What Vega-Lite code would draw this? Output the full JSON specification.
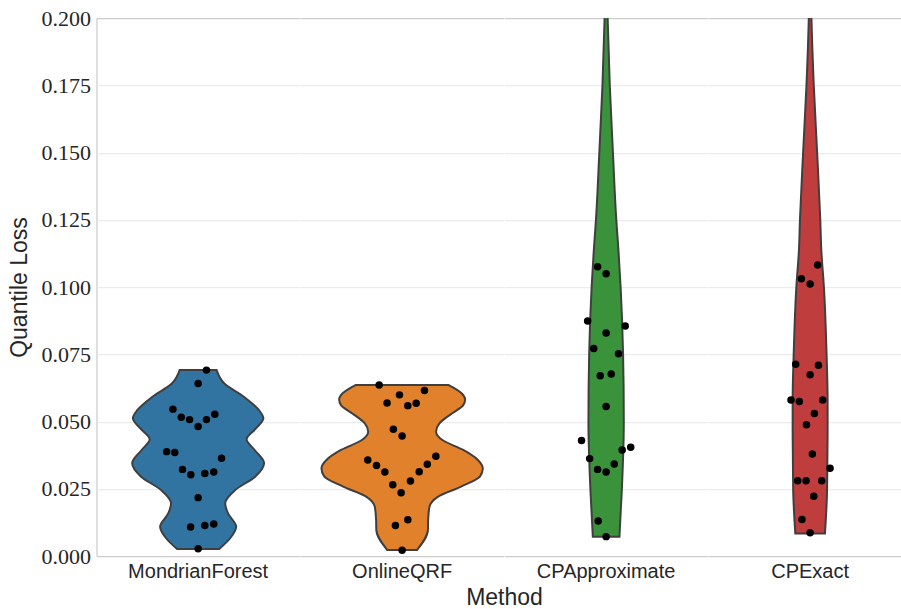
{
  "$schema": "https://vega.github.io/schema/vega-lite/v6.json",
  "padding": {"left": 7.5, "top": 7, "right": 0, "bottom": 0},
  "background": "white",
  "config": {"view": {"stroke": null}, "font": "Liberation Sans"},
  "data": {
    "values": [
      {"kind": "violin", "Method": "MondrianForest", "Loss": 0.0691, "lo": -0.091, "hi": 0.091},
      {"kind": "violin", "Method": "MondrianForest", "Loss": 0.0642, "lo": -0.128, "hi": 0.128},
      {"kind": "violin", "Method": "MondrianForest", "Loss": 0.0592, "lo": -0.225, "hi": 0.225},
      {"kind": "violin", "Method": "MondrianForest", "Loss": 0.0543, "lo": -0.2985, "hi": 0.2985},
      {"kind": "violin", "Method": "MondrianForest", "Loss": 0.0512, "lo": -0.321, "hi": 0.321},
      {"kind": "violin", "Method": "MondrianForest", "Loss": 0.0475, "lo": -0.2855, "hi": 0.2855},
      {"kind": "violin", "Method": "MondrianForest", "Loss": 0.0434, "lo": -0.2385, "hi": 0.2385},
      {"kind": "violin", "Method": "MondrianForest", "Loss": 0.0394, "lo": -0.278, "hi": 0.278},
      {"kind": "violin", "Method": "MondrianForest", "Loss": 0.0345, "lo": -0.3245, "hi": 0.3245},
      {"kind": "violin", "Method": "MondrianForest", "Loss": 0.0295, "lo": -0.2805, "hi": 0.2805},
      {"kind": "violin", "Method": "MondrianForest", "Loss": 0.0245, "lo": -0.182, "hi": 0.182},
      {"kind": "violin", "Method": "MondrianForest", "Loss": 0.0196, "lo": -0.133, "hi": 0.133},
      {"kind": "violin", "Method": "MondrianForest", "Loss": 0.0159, "lo": -0.1465, "hi": 0.1465},
      {"kind": "violin", "Method": "MondrianForest", "Loss": 0.0109, "lo": -0.187, "hi": 0.187},
      {"kind": "violin", "Method": "MondrianForest", "Loss": 0.0066, "lo": -0.1575, "hi": 0.1575},
      {"kind": "violin", "Method": "MondrianForest", "Loss": 0.0026, "lo": -0.1035, "hi": 0.1035},

      {"kind": "violin", "Method": "OnlineQRF", "Loss": 0.0636, "lo": -0.227, "hi": 0.227},
      {"kind": "violin", "Method": "OnlineQRF", "Loss": 0.0605, "lo": -0.2925, "hi": 0.2925},
      {"kind": "violin", "Method": "OnlineQRF", "Loss": 0.0582, "lo": -0.31, "hi": 0.31},
      {"kind": "violin", "Method": "OnlineQRF", "Loss": 0.0560, "lo": -0.30, "hi": 0.30},
      {"kind": "violin", "Method": "OnlineQRF", "Loss": 0.0530, "lo": -0.245, "hi": 0.245},
      {"kind": "violin", "Method": "OnlineQRF", "Loss": 0.0493, "lo": -0.1835, "hi": 0.1835},
      {"kind": "violin", "Method": "OnlineQRF", "Loss": 0.0462, "lo": -0.167, "hi": 0.167},
      {"kind": "violin", "Method": "OnlineQRF", "Loss": 0.0431, "lo": -0.198, "hi": 0.198},
      {"kind": "violin", "Method": "OnlineQRF", "Loss": 0.0395, "lo": -0.2985, "hi": 0.2985},
      {"kind": "violin", "Method": "OnlineQRF", "Loss": 0.0357, "lo": -0.3725, "hi": 0.3725},
      {"kind": "violin", "Method": "OnlineQRF", "Loss": 0.0326, "lo": -0.397, "hi": 0.397},
      {"kind": "violin", "Method": "OnlineQRF", "Loss": 0.0296, "lo": -0.3835, "hi": 0.3835},
      {"kind": "violin", "Method": "OnlineQRF", "Loss": 0.0258, "lo": -0.29, "hi": 0.29},
      {"kind": "violin", "Method": "OnlineQRF", "Loss": 0.0220, "lo": -0.1755, "hi": 0.1755},
      {"kind": "violin", "Method": "OnlineQRF", "Loss": 0.0183, "lo": -0.1345, "hi": 0.1345},
      {"kind": "violin", "Method": "OnlineQRF", "Loss": 0.0134, "lo": -0.128, "hi": 0.128},
      {"kind": "violin", "Method": "OnlineQRF", "Loss": 0.0097, "lo": -0.127, "hi": 0.127},
      {"kind": "violin", "Method": "OnlineQRF", "Loss": 0.0022, "lo": -0.073, "hi": 0.073},

      {"kind": "violin", "Method": "CPApproximate", "Loss": 0.205, "lo": -0.006, "hi": 0.006},
      {"kind": "violin", "Method": "CPApproximate", "Loss": 0.2, "lo": -0.0075, "hi": 0.0075},
      {"kind": "violin", "Method": "CPApproximate", "Loss": 0.175, "lo": -0.018, "hi": 0.018},
      {"kind": "violin", "Method": "CPApproximate", "Loss": 0.15, "lo": -0.0335, "hi": 0.0335},
      {"kind": "violin", "Method": "CPApproximate", "Loss": 0.125, "lo": -0.05, "hi": 0.05},
      {"kind": "violin", "Method": "CPApproximate", "Loss": 0.1138, "lo": -0.0605, "hi": 0.0605},
      {"kind": "violin", "Method": "CPApproximate", "Loss": 0.0997, "lo": -0.0715, "hi": 0.0715},
      {"kind": "violin", "Method": "CPApproximate", "Loss": 0.0747, "lo": -0.0835, "hi": 0.0835},
      {"kind": "violin", "Method": "CPApproximate", "Loss": 0.0499, "lo": -0.087, "hi": 0.087},
      {"kind": "violin", "Method": "CPApproximate", "Loss": 0.0249, "lo": -0.0775, "hi": 0.0775},
      {"kind": "violin", "Method": "CPApproximate", "Loss": 0.0072, "lo": -0.0655, "hi": 0.0655},

      {"kind": "violin", "Method": "CPExact", "Loss": 0.205, "lo": -0.005, "hi": 0.005},
      {"kind": "violin", "Method": "CPExact", "Loss": 0.2, "lo": -0.0065, "hi": 0.0065},
      {"kind": "violin", "Method": "CPExact", "Loss": 0.175, "lo": -0.018, "hi": 0.018},
      {"kind": "violin", "Method": "CPExact", "Loss": 0.15, "lo": -0.0345, "hi": 0.0345},
      {"kind": "violin", "Method": "CPExact", "Loss": 0.125, "lo": -0.05, "hi": 0.05},
      {"kind": "violin", "Method": "CPExact", "Loss": 0.1138, "lo": -0.055, "hi": 0.055},
      {"kind": "violin", "Method": "CPExact", "Loss": 0.0997, "lo": -0.068, "hi": 0.068},
      {"kind": "violin", "Method": "CPExact", "Loss": 0.0747, "lo": -0.081, "hi": 0.081},
      {"kind": "violin", "Method": "CPExact", "Loss": 0.058, "lo": -0.086, "hi": 0.086},
      {"kind": "violin", "Method": "CPExact", "Loss": 0.05, "lo": -0.086, "hi": 0.086},
      {"kind": "violin", "Method": "CPExact", "Loss": 0.025, "lo": -0.0835, "hi": 0.0835},
      {"kind": "violin", "Method": "CPExact", "Loss": 0.0084, "lo": -0.073, "hi": 0.073},

      {"kind": "point", "Method": "MondrianForest", "Loss": 0.0691, "jitter": 0.041},
      {"kind": "point", "Method": "MondrianForest", "Loss": 0.0641, "jitter": 0.0},
      {"kind": "point", "Method": "MondrianForest", "Loss": 0.0546, "jitter": -0.124},
      {"kind": "point", "Method": "MondrianForest", "Loss": 0.0516, "jitter": -0.083},
      {"kind": "point", "Method": "MondrianForest", "Loss": 0.0507, "jitter": -0.042},
      {"kind": "point", "Method": "MondrianForest", "Loss": 0.0481, "jitter": 0.0},
      {"kind": "point", "Method": "MondrianForest", "Loss": 0.0507, "jitter": 0.041},
      {"kind": "point", "Method": "MondrianForest", "Loss": 0.0527, "jitter": 0.082},
      {"kind": "point", "Method": "MondrianForest", "Loss": 0.0388, "jitter": -0.155},
      {"kind": "point", "Method": "MondrianForest", "Loss": 0.0385, "jitter": -0.115},
      {"kind": "point", "Method": "MondrianForest", "Loss": 0.0363, "jitter": 0.115},
      {"kind": "point", "Method": "MondrianForest", "Loss": 0.0322, "jitter": -0.077},
      {"kind": "point", "Method": "MondrianForest", "Loss": 0.0302, "jitter": -0.036},
      {"kind": "point", "Method": "MondrianForest", "Loss": 0.0307, "jitter": 0.033},
      {"kind": "point", "Method": "MondrianForest", "Loss": 0.0312, "jitter": 0.077},
      {"kind": "point", "Method": "MondrianForest", "Loss": 0.0217, "jitter": 0.0},
      {"kind": "point", "Method": "MondrianForest", "Loss": 0.0108, "jitter": -0.037},
      {"kind": "point", "Method": "MondrianForest", "Loss": 0.0113, "jitter": 0.033},
      {"kind": "point", "Method": "MondrianForest", "Loss": 0.0119, "jitter": 0.077},
      {"kind": "point", "Method": "MondrianForest", "Loss": 0.0027, "jitter": 0.0},

      {"kind": "point", "Method": "OnlineQRF", "Loss": 0.0636, "jitter": -0.113},
      {"kind": "point", "Method": "OnlineQRF", "Loss": 0.0599, "jitter": -0.013},
      {"kind": "point", "Method": "OnlineQRF", "Loss": 0.0615, "jitter": 0.110},
      {"kind": "point", "Method": "OnlineQRF", "Loss": 0.0569, "jitter": -0.074},
      {"kind": "point", "Method": "OnlineQRF", "Loss": 0.0559, "jitter": 0.028},
      {"kind": "point", "Method": "OnlineQRF", "Loss": 0.0568, "jitter": 0.069},
      {"kind": "point", "Method": "OnlineQRF", "Loss": 0.0471, "jitter": -0.043},
      {"kind": "point", "Method": "OnlineQRF", "Loss": 0.0446, "jitter": 0.0},
      {"kind": "point", "Method": "OnlineQRF", "Loss": 0.0357, "jitter": -0.169},
      {"kind": "point", "Method": "OnlineQRF", "Loss": 0.0336, "jitter": -0.126},
      {"kind": "point", "Method": "OnlineQRF", "Loss": 0.0312, "jitter": -0.085},
      {"kind": "point", "Method": "OnlineQRF", "Loss": 0.0265, "jitter": -0.046},
      {"kind": "point", "Method": "OnlineQRF", "Loss": 0.0235, "jitter": -0.005},
      {"kind": "point", "Method": "OnlineQRF", "Loss": 0.0279, "jitter": 0.041},
      {"kind": "point", "Method": "OnlineQRF", "Loss": 0.0313, "jitter": 0.084},
      {"kind": "point", "Method": "OnlineQRF", "Loss": 0.0341, "jitter": 0.124},
      {"kind": "point", "Method": "OnlineQRF", "Loss": 0.0371, "jitter": 0.166},
      {"kind": "point", "Method": "OnlineQRF", "Loss": 0.0113, "jitter": -0.033},
      {"kind": "point", "Method": "OnlineQRF", "Loss": 0.0135, "jitter": 0.028},
      {"kind": "point", "Method": "OnlineQRF", "Loss": 0.0021, "jitter": 0.0},

      {"kind": "point", "Method": "CPApproximate", "Loss": 0.1075, "jitter": -0.042},
      {"kind": "point", "Method": "CPApproximate", "Loss": 0.1049, "jitter": 0.0},
      {"kind": "point", "Method": "CPApproximate", "Loss": 0.0874, "jitter": -0.091},
      {"kind": "point", "Method": "CPApproximate", "Loss": 0.0855, "jitter": 0.094},
      {"kind": "point", "Method": "CPApproximate", "Loss": 0.0829, "jitter": 0.0},
      {"kind": "point", "Method": "CPApproximate", "Loss": 0.0771, "jitter": -0.061},
      {"kind": "point", "Method": "CPApproximate", "Loss": 0.0752, "jitter": 0.061},
      {"kind": "point", "Method": "CPApproximate", "Loss": 0.0670, "jitter": -0.029},
      {"kind": "point", "Method": "CPApproximate", "Loss": 0.0677, "jitter": 0.025},
      {"kind": "point", "Method": "CPApproximate", "Loss": 0.0556, "jitter": 0.0},
      {"kind": "point", "Method": "CPApproximate", "Loss": 0.0429, "jitter": -0.121},
      {"kind": "point", "Method": "CPApproximate", "Loss": 0.0404, "jitter": 0.121},
      {"kind": "point", "Method": "CPApproximate", "Loss": 0.0394, "jitter": 0.079},
      {"kind": "point", "Method": "CPApproximate", "Loss": 0.0362, "jitter": -0.081},
      {"kind": "point", "Method": "CPApproximate", "Loss": 0.0322, "jitter": -0.042},
      {"kind": "point", "Method": "CPApproximate", "Loss": 0.0312, "jitter": 0.0},
      {"kind": "point", "Method": "CPApproximate", "Loss": 0.0342, "jitter": 0.040},
      {"kind": "point", "Method": "CPApproximate", "Loss": 0.0130, "jitter": -0.039},
      {"kind": "point", "Method": "CPApproximate", "Loss": 0.0072, "jitter": 0.0},

      {"kind": "point", "Method": "CPExact", "Loss": 0.1082, "jitter": 0.037},
      {"kind": "point", "Method": "CPExact", "Loss": 0.1031, "jitter": -0.043},
      {"kind": "point", "Method": "CPExact", "Loss": 0.1011, "jitter": 0.0},
      {"kind": "point", "Method": "CPExact", "Loss": 0.0713, "jitter": -0.071},
      {"kind": "point", "Method": "CPExact", "Loss": 0.0709, "jitter": 0.041},
      {"kind": "point", "Method": "CPExact", "Loss": 0.0674, "jitter": 0.0},
      {"kind": "point", "Method": "CPExact", "Loss": 0.0580, "jitter": -0.094},
      {"kind": "point", "Method": "CPExact", "Loss": 0.0574, "jitter": -0.053},
      {"kind": "point", "Method": "CPExact", "Loss": 0.0580, "jitter": 0.062},
      {"kind": "point", "Method": "CPExact", "Loss": 0.0530, "jitter": 0.021},
      {"kind": "point", "Method": "CPExact", "Loss": 0.0488, "jitter": -0.018},
      {"kind": "point", "Method": "CPExact", "Loss": 0.0379, "jitter": 0.011},
      {"kind": "point", "Method": "CPExact", "Loss": 0.0326, "jitter": 0.098},
      {"kind": "point", "Method": "CPExact", "Loss": 0.0280, "jitter": -0.061},
      {"kind": "point", "Method": "CPExact", "Loss": 0.0280, "jitter": -0.020},
      {"kind": "point", "Method": "CPExact", "Loss": 0.0280, "jitter": 0.057},
      {"kind": "point", "Method": "CPExact", "Loss": 0.0222, "jitter": 0.018},
      {"kind": "point", "Method": "CPExact", "Loss": 0.0136, "jitter": -0.040},
      {"kind": "point", "Method": "CPExact", "Loss": 0.0086, "jitter": 0.0}
    ]
  },
  "facet": {
    "column": {
      "field": "Method",
      "type": "nominal",
      "sort": ["MondrianForest", "OnlineQRF", "CPApproximate", "CPExact"],
      "header": {
        "title": "Method",
        "labelOrient": "bottom",
        "titleOrient": "bottom",
        "labelFont": "Liberation Sans",
        "labelFontSize": 20,
        "labelColor": "#262626",
        "labelPadding": 6,
        "titleFont": "Liberation Sans",
        "titleFontSize": 23,
        "titleFontWeight": "normal",
        "titleColor": "#262626",
        "titlePadding": -5
      }
    }
  },
  "spacing": 0,
  "spec": {
    "width": 203.25,
    "height": 538,
    "layer": [
      {
        "transform": [{"filter": "datum.kind == 'violin'"}],
        "mark": {"type": "area", "orient": "horizontal", "interpolate": "monotone", "stroke": "#3f3f3f", "strokeWidth": 2, "clip": true, "opacity": 1},
        "encoding": {
          "y": {
            "field": "Loss",
            "type": "quantitative",
            "scale": {"domain": [0, 0.2], "nice": false, "zero": false},
            "axis": {
              "values": [0, 0.025, 0.05, 0.075, 0.1, 0.125, 0.15, 0.175, 0.2],
              "format": ".3f",
              "labelFont": "Liberation Serif",
              "labelFontSize": 22,
              "labelColor": "#262626",
              "labelPadding": 6,
              "ticks": false,
              "tickSize": 0,
              "domainColor": "#cccccc",
              "domainWidth": 1.25,
              "gridColor": {"condition": {"test": "datum.value == 0 || datum.value == 0.2", "value": "#cccccc"}, "value": "#ebebeb"},
              "gridWidth": 1.25,
              "title": "Quantile Loss",
              "titleFont": "Liberation Sans",
              "titleFontSize": 23,
              "titleFontWeight": "normal",
              "titleColor": "#262626",
              "titlePadding": 10
            }
          },
          "x": {
            "field": "lo",
            "type": "quantitative",
            "scale": {"domain": [-0.5, 0.5], "nice": false, "zero": false},
            "axis": null
          },
          "x2": {"field": "hi"},
          "color": {
            "field": "Method",
            "type": "nominal",
            "scale": {"domain": ["MondrianForest", "OnlineQRF", "CPApproximate", "CPExact"], "range": ["#3274a1", "#e1812c", "#3a923a", "#c03d3e"]},
            "legend": null
          }
        }
      },
      {
        "transform": [{"filter": "datum.kind == 'point'"}],
        "mark": {"type": "circle", "size": 56, "color": "black", "opacity": 1},
        "encoding": {
          "y": {"field": "Loss", "type": "quantitative"},
          "x": {"field": "jitter", "type": "quantitative"}
        }
      }
    ]
  }
}
